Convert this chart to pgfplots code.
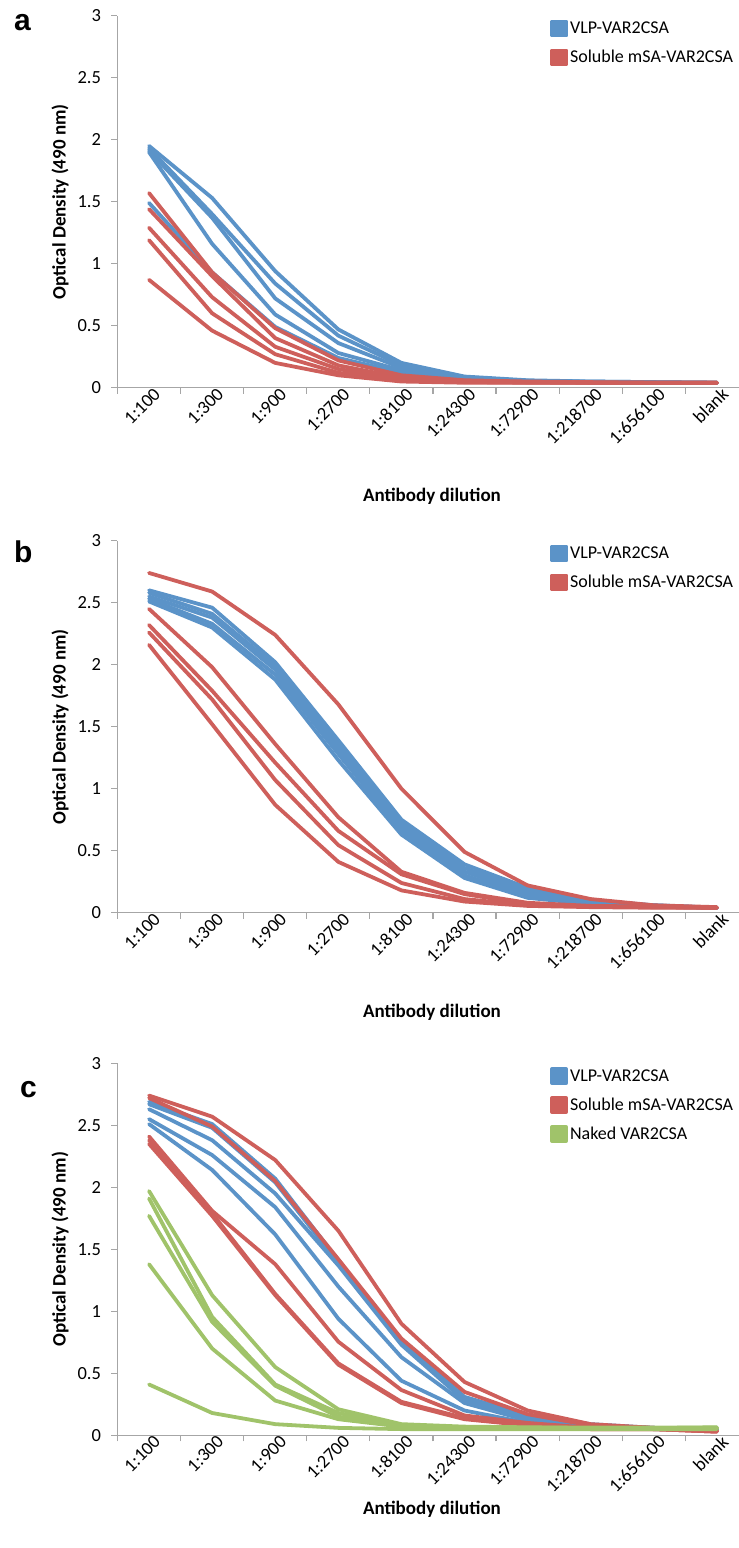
\documentclass[border=0pt]{standalone}
\usepackage{fontspec}
\setmainfont{Carlito}
\newfontfamily\panelfont{Liberation Sans}
\usepackage{pgfplots}
\usepackage{pgfplotstable}
\pgfplotsset{compat=1.18}

\definecolor{vlpblue}{HTML}{5B93C8}
\definecolor{msared}{HTML}{CE5F5B}
\definecolor{nakedgreen}{HTML}{A0C36A}
\definecolor{axisgray}{HTML}{A6A6A6}

% panel a: VLP (b1-b5), soluble mSA (r1-r5)
\pgfplotstableread{
x b1 b2 b3 b4 b5 r1 r2 r3 r4 r5
0 1.95 1.93 1.91 1.90 1.49 1.57 1.44 1.29 1.19 0.87
1 1.53 1.40 1.37 1.16 0.93 0.93 0.90 0.73 0.60 0.46
2 0.94 0.84 0.72 0.59 0.49 0.48 0.40 0.33 0.27 0.20
3 0.47 0.42 0.36 0.28 0.24 0.22 0.18 0.15 0.12 0.10
4 0.20 0.18 0.16 0.14 0.12 0.10 0.08 0.07 0.06 0.05
5 0.09 0.085 0.08 0.07 0.065 0.06 0.055 0.05 0.045 0.04
6 0.06 0.055 0.055 0.05 0.05 0.05 0.045 0.045 0.04 0.04
7 0.05 0.05 0.045 0.045 0.045 0.045 0.04 0.04 0.04 0.04
8 0.045 0.045 0.04 0.04 0.04 0.04 0.04 0.04 0.04 0.04
9 0.04 0.04 0.04 0.04 0.04 0.04 0.04 0.04 0.04 0.04
}\tablea

% panel b
\pgfplotstableread{
x b1 b2 b3 b4 b5 r1 r2 r3 r4 r5
0 2.60 2.58 2.55 2.53 2.51 2.74 2.45 2.32 2.26 2.16
1 2.46 2.41 2.38 2.33 2.30 2.59 1.98 1.79 1.72 1.52
2 2.02 1.99 1.96 1.92 1.88 2.24 1.36 1.21 1.07 0.87
3 1.39 1.35 1.32 1.28 1.23 1.68 0.77 0.66 0.545 0.41
4 0.75 0.72 0.69 0.66 0.63 1.00 0.33 0.31 0.24 0.18
5 0.39 0.36 0.33 0.30 0.28 0.49 0.16 0.15 0.11 0.09
6 0.20 0.18 0.16 0.14 0.12 0.22 0.08 0.07 0.06 0.055
7 0.10 0.09 0.08 0.075 0.07 0.11 0.055 0.05 0.05 0.045
8 0.06 0.06 0.055 0.05 0.05 0.06 0.05 0.045 0.045 0.04
9 0.04 0.04 0.04 0.04 0.04 0.045 0.04 0.04 0.04 0.04
}\tableb

% panel c: plus naked VAR2CSA (g1-g5)
\pgfplotstableread{
x b1 b2 b3 b4 b5 r1 r2 r3 r4 r5 g1 g2 g3 g4 g5
0 2.69 2.67 2.63 2.55 2.51 2.74 2.72 2.41 2.38 2.35 1.97 1.91 1.77 1.38 0.41
1 2.51 2.48 2.38 2.26 2.14 2.57 2.49 1.81 1.79 1.77 1.13 0.955 0.915 0.70 0.18
2 2.07 2.04 1.95 1.84 1.62 2.22 2.05 1.38 1.14 1.13 0.55 0.41 0.40 0.28 0.09
3 1.41 1.39 1.37 1.20 0.94 1.65 1.42 0.755 0.58 0.57 0.21 0.18 0.15 0.13 0.06
4 0.76 0.74 0.73 0.63 0.44 0.90 0.78 0.365 0.27 0.26 0.09 0.08 0.075 0.07 0.05
5 0.31 0.30 0.28 0.26 0.20 0.43 0.35 0.16 0.14 0.13 0.07 0.065 0.06 0.06 0.05
6 0.16 0.14 0.13 0.12 0.10 0.20 0.17 0.10 0.08 0.08 0.065 0.06 0.06 0.055 0.05
7 0.09 0.08 0.075 0.07 0.065 0.09 0.08 0.06 0.05 0.05 0.06 0.06 0.06 0.055 0.05
8 0.06 0.06 0.055 0.055 0.05 0.06 0.06 0.05 0.05 0.05 0.06 0.06 0.06 0.055 0.05
9 0.05 0.05 0.05 0.05 0.05 0.04 0.04 0.03 0.03 0.03 0.065 0.06 0.06 0.055 0.05
}\tablec

\pgfplotsset{
  elisa/.style={
    scale only axis,
    width=621.5pt, height=372pt,
    xmin=-0.5, xmax=9.35, ymin=0, ymax=3,
    axis lines=left,
    axis line style={-, draw=axisgray, line width=1.2pt},
    tick align=outside,
    major tick length=6pt,
    ytick={0,0.5,1,1.5,2,2.5,3},
    yticklabels={0,0.5,1,1.5,2,2.5,3},
    ytick style={draw=axisgray, line width=1.2pt},
    xtick={0,...,9},
    xticklabels={1:100,1:300,1:900,1:2700,1:8100,1:24300,1:72900,1:218700,1:656100,blank},
    xtick style={draw=none},
    extra x ticks={-0.5,0.5,1.5,2.5,3.5,4.5,5.5,6.5,7.5,8.5},
    extra x tick labels={},
    extra x tick style={xtick style={draw=axisgray, line width=1.2pt}},
    ticklabel style={font=\fontsize{18.5}{21}\selectfont},
    x tick label style={rotate=45, anchor=east, xshift=11pt, yshift=-4pt},
    y tick label style={xshift=-7pt},
    xlabel={\bfseries Antibody dilution},
    xlabel style={font=\fontsize{19}{22}\selectfont, anchor=center},
    ylabel={\bfseries Optical Density (490 nm)},
    ylabel style={font=\fontsize{19}{22}\selectfont, at={(axis description cs:-0.0925,0.5)}, anchor=center},
    clip=false,
    legend style={draw=none, fill=none, inner sep=0pt,
      at={(axis description cs:0.696,0.99)}, anchor=north west,
      font=\fontsize{18}{21}\selectfont, row sep=11pt,
      cells={anchor=west}},
    legend image code/.code={\fill[##1] (0pt,-7pt) rectangle (14pt,7pt);},
    every axis plot/.append style={line width=3.8pt, line join=round, line cap=round, mark=none},
  },
  vlp/.style={color=vlpblue},
  msa/.style={color=msared},
  naked/.style={color=nakedgreen},
}

\begin{document}
\begin{tikzpicture}
\path[use as bounding box] (0pt,0pt) rectangle (739pt,-1548pt);

% ---- panel a
\begin{axis}[elisa, at={(117.5pt,-387.7pt)}, anchor=south west,
  xlabel style={at={(axis description cs:0.506,-0.293)}}]
\addplot[vlp] table[x=x,y=b1] {\tablea};
\addlegendentry{VLP-VAR2CSA}
\addplot[vlp, forget plot] table[x=x,y=b2] {\tablea};
\addplot[vlp, forget plot] table[x=x,y=b3] {\tablea};
\addplot[vlp, forget plot] table[x=x,y=b4] {\tablea};
\addplot[vlp, forget plot] table[x=x,y=b5] {\tablea};
\addplot[msa] table[x=x,y=r1] {\tablea};
\addlegendentry{Soluble mSA-VAR2CSA}
\addplot[msa, forget plot] table[x=x,y=r2] {\tablea};
\addplot[msa, forget plot] table[x=x,y=r3] {\tablea};
\addplot[msa, forget plot] table[x=x,y=r4] {\tablea};
\addplot[msa, forget plot] table[x=x,y=r5] {\tablea};
\end{axis}

% ---- panel b
\begin{axis}[elisa, at={(117.5pt,-912.7pt)}, anchor=south west,
  xlabel style={at={(axis description cs:0.506,-0.268)}}]
\addplot[vlp] table[x=x,y=b1] {\tableb};
\addlegendentry{VLP-VAR2CSA}
\addplot[vlp, forget plot] table[x=x,y=b2] {\tableb};
\addplot[vlp, forget plot] table[x=x,y=b3] {\tableb};
\addplot[vlp, forget plot] table[x=x,y=b4] {\tableb};
\addplot[vlp, forget plot] table[x=x,y=b5] {\tableb};
\addplot[msa] table[x=x,y=r1] {\tableb};
\addlegendentry{Soluble mSA-VAR2CSA}
\addplot[msa, forget plot] table[x=x,y=r2] {\tableb};
\addplot[msa, forget plot] table[x=x,y=r3] {\tableb};
\addplot[msa, forget plot] table[x=x,y=r4] {\tableb};
\addplot[msa, forget plot] table[x=x,y=r5] {\tableb};
\end{axis}

% ---- panel c
\begin{axis}[elisa, at={(117.5pt,-1435.3pt)}, anchor=south west,
  xlabel style={at={(axis description cs:0.506,-0.198)}}]
\addplot[vlp] table[x=x,y=b1] {\tablec};
\addlegendentry{VLP-VAR2CSA}
\addplot[vlp, forget plot] table[x=x,y=b2] {\tablec};
\addplot[vlp, forget plot] table[x=x,y=b3] {\tablec};
\addplot[vlp, forget plot] table[x=x,y=b4] {\tablec};
\addplot[vlp, forget plot] table[x=x,y=b5] {\tablec};
\addplot[msa] table[x=x,y=r1] {\tablec};
\addlegendentry{Soluble mSA-VAR2CSA}
\addplot[msa, forget plot] table[x=x,y=r2] {\tablec};
\addplot[msa, forget plot] table[x=x,y=r3] {\tablec};
\addplot[msa, forget plot] table[x=x,y=r4] {\tablec};
\addplot[msa, forget plot] table[x=x,y=r5] {\tablec};
\addplot[naked] table[x=x,y=g1] {\tablec};
\addlegendentry{Naked VAR2CSA}
\addplot[naked, forget plot] table[x=x,y=g2] {\tablec};
\addplot[naked, forget plot] table[x=x,y=g3] {\tablec};
\addplot[naked, forget plot] table[x=x,y=g4] {\tablec};
\addplot[naked, forget plot] table[x=x,y=g5] {\tablec};
\end{axis}

% panel letters
\node[font=\panelfont\bfseries\fontsize{30}{32}\selectfont, anchor=base west, inner sep=0pt] at (14pt,-30.7pt) {a};
\node[font=\panelfont\bfseries\fontsize{30}{32}\selectfont, anchor=base west, inner sep=0pt] at (14pt,-562.3pt) {b};
\node[font=\panelfont\bfseries\fontsize{30}{32}\selectfont, anchor=base west, inner sep=0pt] at (20pt,-1097pt) {c};
\end{tikzpicture}
\end{document}
